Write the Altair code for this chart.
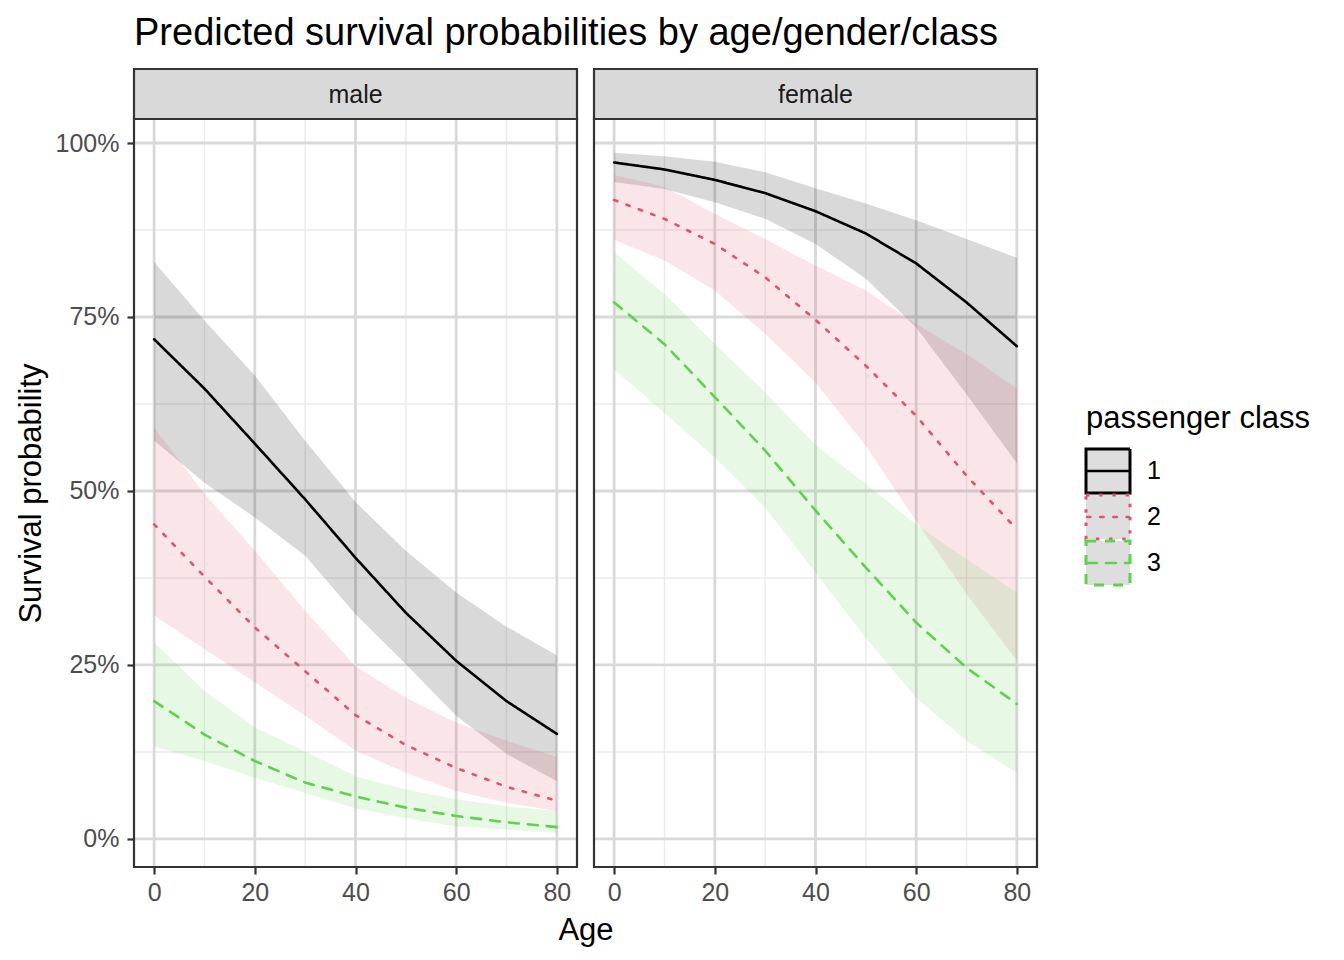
import altair as alt
import pandas as pd

# Predicted survival by age, split by gender and passenger class
ages = [0, 10, 20, 30, 40, 50, 60, 70, 80]
classes = ["1", "2", "3"]
genders = ["male", "female"]

male_fit = {
    "1": [0.718, 0.647, 0.568, 0.488, 0.404, 0.325, 0.256, 0.198, 0.151],
    "2": [0.452, 0.377, 0.304, 0.241, 0.178, 0.135, 0.102, 0.075, 0.055],
    "3": [0.198, 0.150, 0.112, 0.081, 0.061, 0.045, 0.033, 0.024, 0.017],
}
male_lo = {
    "1": [0.572, 0.512, 0.462, 0.407, 0.323, 0.251, 0.177, 0.122, 0.083],
    "2": [0.321, 0.273, 0.225, 0.177, 0.127, 0.095, 0.069, 0.052, 0.040],
    "3": [0.133, 0.112, 0.088, 0.066, 0.044, 0.030, 0.018, 0.0135, 0.0086],
}
male_hi = {
    "1": [0.829, 0.745, 0.666, 0.572, 0.484, 0.414, 0.354, 0.305, 0.264],
    "2": [0.591, 0.496, 0.414, 0.328, 0.248, 0.203, 0.167, 0.141, 0.118],
    "3": [0.282, 0.213, 0.160, 0.126, 0.090, 0.071, 0.057, 0.047, 0.040],
}
female_fit = {
    "1": [0.972, 0.962, 0.947, 0.928, 0.902, 0.870, 0.827, 0.771, 0.708],
    "2": [0.918, 0.891, 0.855, 0.807, 0.746, 0.680, 0.608, 0.522, 0.445],
    "3": [0.771, 0.711, 0.635, 0.558, 0.472, 0.390, 0.311, 0.246, 0.194],
}
female_lo = {
    "1": [0.944, 0.934, 0.915, 0.891, 0.855, 0.805, 0.735, 0.639, 0.540],
    "2": [0.861, 0.831, 0.788, 0.726, 0.656, 0.565, 0.457, 0.352, 0.256],
    "3": [0.675, 0.612, 0.548, 0.476, 0.383, 0.289, 0.203, 0.141, 0.095],
}
female_hi = {
    "1": [0.986, 0.981, 0.973, 0.958, 0.935, 0.913, 0.889, 0.862, 0.835],
    "2": [0.954, 0.937, 0.898, 0.862, 0.824, 0.788, 0.740, 0.697, 0.647],
    "3": [0.843, 0.783, 0.711, 0.642, 0.566, 0.510, 0.452, 0.402, 0.354],
}

x_major = [0, 20, 40, 60, 80]
x_minor = [10, 30, 50, 70]
y_major = [0, 0.25, 0.5, 0.75, 1.0]
y_minor = [0.125, 0.375, 0.625, 0.875]

class_colors = ["#000000", "#DF536B", "#61D04F"]
class_dashes = [[1, 0], [3.4, 9.8], [10, 9]]

tables = {
    "male": (male_fit, male_lo, male_hi),
    "female": (female_fit, female_lo, female_hi),
}
rows = []
for g in genders:
    fit, lo, hi = tables[g]
    for c in classes:
        for i, a in enumerate(ages):
            rows.append({"gender": g, "cls": c, "age": a,
                         "fit": fit[c][i], "lo": lo[c][i], "hi": hi[c][i]})
df = pd.DataFrame(rows)

FONT = "Liberation Sans"
W, H = 443, 748
STRIP = 50
GAP = 17

x_scale = alt.Scale(domain=[-4, 84], nice=False, zero=False)
y_scale = alt.Scale(domain=[-0.0403, 1.0345], nice=False, zero=False)
color_scale = alt.Scale(domain=classes, range=class_colors)
dash_scale = alt.Scale(domain=classes, range=class_dashes)


def panel(gender, first):
    sub = df[df["gender"] == gender]
    if first:
        x_axis = alt.Axis(values=x_major, title="Age", titleX=W + GAP / 2,
                          titleY=63, titleAlign="center", titleBaseline="middle",
                          labelPadding=6)
        y_axis = alt.Axis(values=y_major, format=".0%",
                          title="Survival probability", titlePadding=7.5,
                          labelPadding=8)
    else:
        x_axis = alt.Axis(values=x_major, title=None, labelPadding=6)
        y_axis = None

    def xe(field):
        return alt.X(field, type="quantitative", scale=x_scale, axis=x_axis)

    def ye(field):
        return alt.Y(field, type="quantitative", scale=y_scale, axis=y_axis)

    one = pd.DataFrame({"k": [0]})

    minor_v = alt.Chart(pd.DataFrame({"v": x_minor})).mark_rule(
        color="#EBEBEB", strokeWidth=1.4).encode(x=xe("v"))
    minor_h = alt.Chart(pd.DataFrame({"v": y_minor})).mark_rule(
        color="#EBEBEB", strokeWidth=1.4).encode(y=ye("v"))
    major_v = alt.Chart(pd.DataFrame({"v": x_major})).mark_rule(
        color="#D9D9D9", strokeWidth=2.8).encode(x=xe("v"))
    major_h = alt.Chart(pd.DataFrame({"v": y_major})).mark_rule(
        color="#D9D9D9", strokeWidth=2.8).encode(y=ye("v"))

    ribbons = alt.Chart(sub).mark_area(opacity=0.15).encode(
        x=xe("age"), y=ye("lo"), y2="hi",
        fill=alt.Fill("cls:N", scale=color_scale, legend=None),
    )
    lines = alt.Chart(sub).mark_line(strokeWidth=2.6, strokeCap="round").encode(
        x=xe("age"), y=ye("fit"),
        color=alt.Color("cls:N", scale=color_scale, legend=None),
        strokeDash=alt.StrokeDash("cls:N", scale=dash_scale, legend=None),
    )
    border = alt.Chart(one).mark_rect(
        fill="transparent", stroke="#333333", strokeWidth=2.2).encode(
        x=alt.value(0), x2=alt.value(W), y=alt.value(0), y2=alt.value(H))
    strip = alt.Chart(one).mark_rect(
        fill="#D9D9D9", stroke="#333333", strokeWidth=2.2).encode(
        x=alt.value(0), x2=alt.value(W), y=alt.value(-STRIP), y2=alt.value(0))
    strip_text = alt.Chart(one).mark_text(
        font=FONT, fontSize=25, color="#1A1A1A", align="center",
        baseline="middle").encode(
        x=alt.value(W / 2), y=alt.value(-STRIP / 2 + 1), text=alt.value(gender))

    layers = [minor_v, minor_h, major_v, major_h, ribbons, lines, border,
              strip, strip_text]
    if first:
        title = alt.Chart(one).mark_text(
            font=FONT, fontSize=38, color="#000000", align="left",
            baseline="alphabetic").encode(
            x=alt.value(0), y=alt.value(-74),
            text=alt.value("Predicted survival probabilities by age/gender/class"))
        layers.append(title)
    return alt.layer(*layers).properties(width=W, height=H)


# Legend drawn as its own small panel: one key per passenger class
leg = pd.DataFrame({"cls": classes})
ly = alt.Y("cls:N", scale=alt.Scale(domain=classes, range=[330, 466],
                                     paddingInner=0.04, paddingOuter=0),
           axis=None)
legend_layers = []
for c, col, dash in zip(classes, class_colors, class_dashes):
    one_key = alt.Chart(leg).transform_filter(alt.datum.cls == c)
    legend_layers.append(one_key.mark_rect(
        fill="#DEDEDE", stroke=col, strokeWidth=3, strokeDash=dash,
        strokeCap="butt").encode(y=ly, x=alt.value(32), x2=alt.value(76)))
    legend_layers.append(one_key.mark_rule(
        color=col, strokeWidth=2.6, strokeDash=dash, strokeCap="round").encode(
        y=ly, x=alt.value(33), x2=alt.value(75)))
key_text = alt.Chart(leg).mark_text(
    font=FONT, fontSize=25, color="#000000", align="left",
    baseline="middle").encode(y=ly, x=alt.value(93), text="cls:N")
leg_title = alt.Chart(pd.DataFrame({"k": [0]})).mark_text(
    font=FONT, fontSize=31, color="#000000", align="left",
    baseline="middle").encode(
    x=alt.value(32), y=alt.value(300), text=alt.value("passenger class"))
legend = alt.layer(*legend_layers, key_text, leg_title).properties(
    width=262, height=H)

chart = alt.hconcat(
    panel("male", True), panel("female", False), legend,
    spacing=GAP, bounds="flush",
).properties(
    padding={"left": 15, "top": 15, "right": 5, "bottom": 5}
).configure(
    font=FONT, background="white"
).configure_view(
    strokeWidth=0
).configure_axis(
    domain=False, grid=False, tickColor="#333333", tickWidth=2.2, tickSize=7,
    labelFont=FONT, labelFontSize=25, labelColor="#4D4D4D",
    titleFont=FONT, titleFontSize=31, titleFontWeight="normal",
    titleColor="#000000",
)

chart.save("out.html", embed_options={"renderer": "svg", "actions": False})
